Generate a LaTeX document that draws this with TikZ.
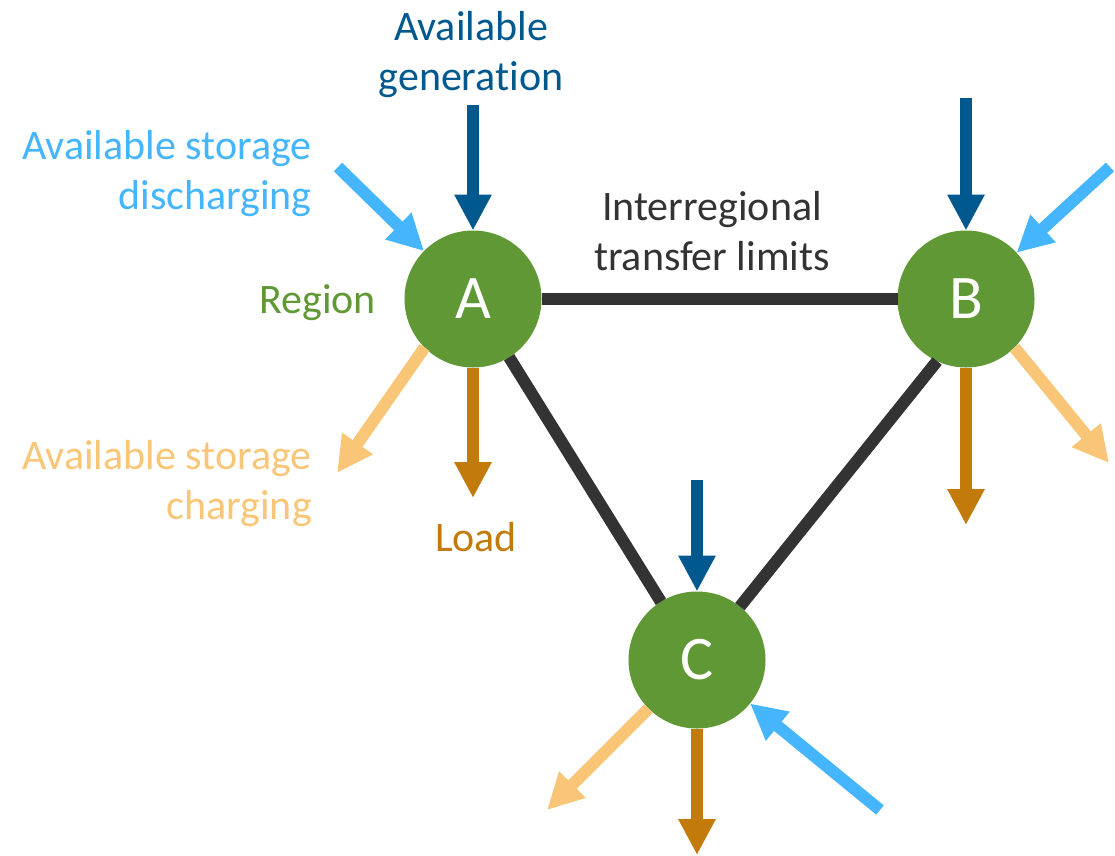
\documentclass[tikz,border=0pt]{standalone}
\usepackage{fontspec}
\setmainfont[Ligatures=NoCommon]{Carlito}
\usetikzlibrary{arrows.meta}

\definecolor{genblue}{HTML}{00598E}
\definecolor{storblue}{HTML}{45B6FE}
\definecolor{regiongreen}{HTML}{5F9834}
\definecolor{linkgray}{HTML}{333333}
\definecolor{chargeorange}{HTML}{F9C576}
\definecolor{loadorange}{HTML}{C27B0A}

\tikzset{
  region/.style={circle, fill=regiongreen, text=white, minimum size=137pt,
    inner sep=0pt, outer sep=0pt, font=\fontsize{62}{62}\selectfont},
  link/.style={draw=linkgray, line width=12pt},
  flow/.style={line width=12pt, -{Triangle[width=35pt,length=36pt]}},
  label/.style={inner sep=0pt, font=\fontsize{42}{49.5}\selectfont},
}

\begin{document}
\begin{tikzpicture}[x=1pt, y=-1pt]
  \useasboundingbox (0,0) rectangle (1115,855);

  % regions
  \node[region] (A) at (473,299) {A};
  \node[region] (B) at (966,299) {B};
  \node[region] (C) at (697,660) {C};

  % free ends of the flow arrows
  \coordinate (genA) at (473,105);
  \coordinate (genB) at (966,98);
  \coordinate (genC) at (697,480);
  \coordinate (disA) at (338,167);
  \coordinate (disB) at (1110,167);
  \coordinate (disC) at (880,810);
  \coordinate (loadA) at (473,498);
  \coordinate (loadB) at (966,525);
  \coordinate (loadC) at (697,855);
  \coordinate (chgA) at (337,473);
  \coordinate (chgB) at (1109,463);
  \coordinate (chgC) at (547,810);

  % interregional links
  \draw[link] (A) -- (B);
  \draw[link] (A) -- (C);
  \draw[link] (B.245) -- (C);

  % generation
  \draw[flow, genblue] (genA) -- (A);
  \draw[flow, genblue] (genB) -- (B);
  \draw[flow, genblue] (genC) -- (C);

  % storage discharging
  \draw[flow, storblue] (disA) -- (A);
  \draw[flow, storblue] (disB) -- (B);
  \draw[flow, storblue] (disC) -- (C);

  % load
  \draw[flow, loadorange] (A) -- (loadA);
  \draw[flow, loadorange] (B) -- (loadB);
  \draw[flow, loadorange] (C) -- (loadC);

  % storage charging
  \draw[flow, chargeorange] (A.225) -- (chgA);
  \draw[flow, chargeorange] (B.-45) -- (chgB);
  \draw[flow, chargeorange] (C.225) -- (chgC);

  % labels (base anchor of a two-line label sits on its second line)
  \node[label, text=genblue, align=center, anchor=base] (lgen) at (471,90)
    {Available\\generation};
  \node[label, text=storblue, align=right, anchor=base east] (ldis) at (312,209)
    {Available storage\\discharging};
  \node[label, text=linkgray, align=center, anchor=base] (llink) at (712,270)
    {Interregional\\transfer limits};
  \node[label, text=regiongreen, anchor=base east] (lregion) at (376,313) {Region};
  \node[label, text=chargeorange, align=right, anchor=base east] (lchg) at (312,519)
    {Available storage\\charging};
  \node[label, text=loadorange, anchor=base] (lload) at (476,551) {Load};
\end{tikzpicture}
\end{document}
